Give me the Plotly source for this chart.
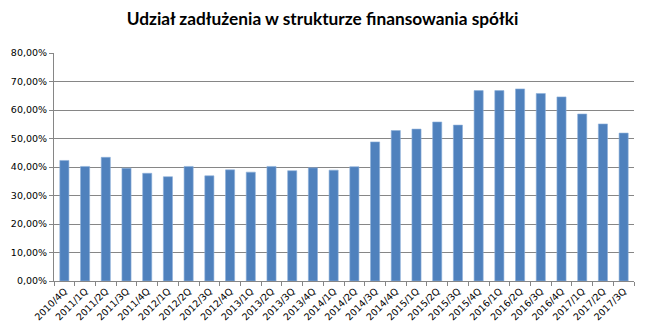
import plotly.graph_objects as go

categories = ["2010/4Q",
              "2011/1Q", "2011/2Q", "2011/3Q", "2011/4Q",
              "2012/1Q", "2012/2Q", "2012/3Q", "2012/4Q",
              "2013/1Q", "2013/2Q", "2013/3Q", "2013/4Q",
              "2014/1Q", "2014/2Q", "2014/3Q", "2014/4Q",
              "2015/1Q", "2015/2Q", "2015/3Q", "2015/4Q",
              "2016/1Q", "2016/2Q", "2016/3Q", "2016/4Q",
              "2017/1Q", "2017/2Q", "2017/3Q"]
debt_share = [0.423,
              0.402, 0.434, 0.396, 0.378,
              0.366, 0.402, 0.369, 0.390,
              0.382, 0.402, 0.387, 0.397,
              0.389, 0.401, 0.488, 0.528,
              0.533, 0.558, 0.547, 0.668,
              0.668, 0.674, 0.658, 0.646,
              0.586, 0.551, 0.519]
title_text = "Udział zadłużenia w strukturze finansowania spółki"

fig = go.Figure(go.Bar(x=categories, y=debt_share, marker=dict(color="#4F81BD", line=dict(width=0.6, color="#8DB0DA"))))

fig.update_layout(
    width=645, height=333,
    margin=dict(l=49, r=11, t=53, b=51),
    paper_bgcolor="white", plot_bgcolor="white",
    separators=", ",
    bargap=0.56,
    showlegend=False,
    title=dict(text="<b>" + title_text + "</b>", x=0.5, xanchor="center", y=0.943, yanchor="middle",
               font=dict(family="Lato", size=17.3, color="#000000")),
)
fig.update_xaxes(type="category", showline=True, linecolor="#868686", linewidth=1,
                 ticks="outside", tickson="boundaries", ticklen=4, tickcolor="#868686",
                 tickangle=-45, tickfont=dict(family="DejaVu Sans", size=9.5, color="#000000"),
                 showgrid=False)
fig.update_yaxes(range=[0, 0.8], dtick=0.1, tickformat=".2%", showline=True, linecolor="#868686",
                 linewidth=1, ticks="outside", ticklen=4, tickcolor="#868686",
                 gridcolor="#868686", gridwidth=1, zeroline=False,
                 tickfont=dict(family="DejaVu Sans", size=9.5, color="#000000"))

fig.write_html("out.html")
